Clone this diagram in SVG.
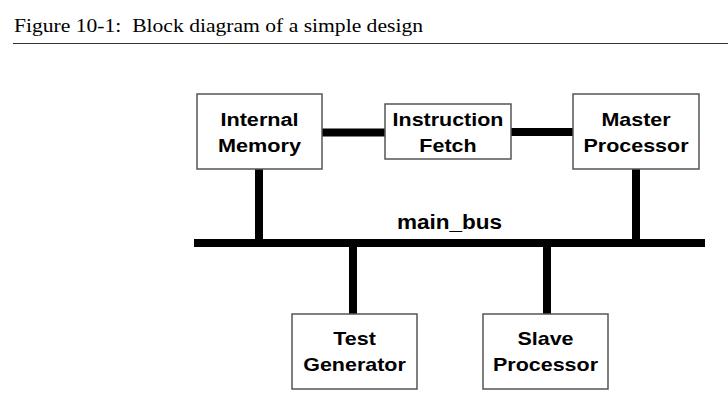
<svg xmlns="http://www.w3.org/2000/svg" width="728" height="411" viewBox="0 0 728 411">
<style>
.box{fill:#fff;stroke:#555;stroke-width:1.5}
.lbl{font-family:"Liberation Sans",Arial,sans-serif;font-weight:bold;font-size:19px;fill:#000;text-anchor:middle}
.wire{stroke:#000;stroke-width:8;fill:none}
.title{font-family:"Liberation Serif","Times New Roman",serif;font-size:18.7px;fill:#000;white-space:pre}
</style>
<rect width="728" height="411" fill="#fff"/>
<text class="title" x="14" y="31.7" textLength="409" lengthAdjust="spacingAndGlyphs" xml:space="preserve">Figure 10-1:  Block diagram of a simple design</text>
<line x1="13" y1="43.5" x2="728" y2="43.5" stroke="#333" stroke-width="1.2"/>
<g id="connectors">
<line class="wire" x1="322" y1="132.5" x2="385" y2="132.5"/>
<line class="wire" x1="511" y1="132" x2="573" y2="132"/>
<line class="wire" x1="194" y1="243" x2="705" y2="243"/>
<line class="wire" x1="259" y1="169" x2="259" y2="243"/>
<line class="wire" x1="636" y1="169" x2="636" y2="243"/>
<line class="wire" x1="353" y1="243" x2="353" y2="314"/>
<line class="wire" x1="547" y1="243" x2="547" y2="314"/>
<text class="lbl" transform="translate(449.5,229) scale(1.1,1)" style="font-size:20.5px">main_bus</text>
</g>
<g id="internal_memory">
<rect class="box" x="197" y="94" width="125" height="75"/>
<text class="lbl" transform="translate(259.5,126) scale(1.14,1)">Internal</text>
<text class="lbl" transform="translate(259.5,152) scale(1.14,1)">Memory</text>
</g>
<g id="instruction_fetch">
<rect class="box" x="385" y="104" width="126" height="55"/>
<text class="lbl" transform="translate(448,126) scale(1.13,1)">Instruction</text>
<text class="lbl" transform="translate(448,152) scale(1.13,1)">Fetch</text>
</g>
<g id="master_processor">
<rect class="box" x="573" y="94" width="126" height="75"/>
<text class="lbl" transform="translate(636,126) scale(1.13,1)">Master</text>
<text class="lbl" transform="translate(636,152) scale(1.13,1)">Processor</text>
</g>
<g id="test_generator">
<rect class="box" x="292" y="314" width="125" height="75"/>
<text class="lbl" transform="translate(354.5,345) scale(1.13,1)">Test</text>
<text class="lbl" transform="translate(354.5,371) scale(1.13,1)">Generator</text>
</g>
<g id="slave_processor">
<rect class="box" x="483" y="314" width="125" height="75"/>
<text class="lbl" transform="translate(545.5,345) scale(1.13,1)">Slave</text>
<text class="lbl" transform="translate(545.5,371) scale(1.13,1)">Processor</text>
</g>
</svg>
